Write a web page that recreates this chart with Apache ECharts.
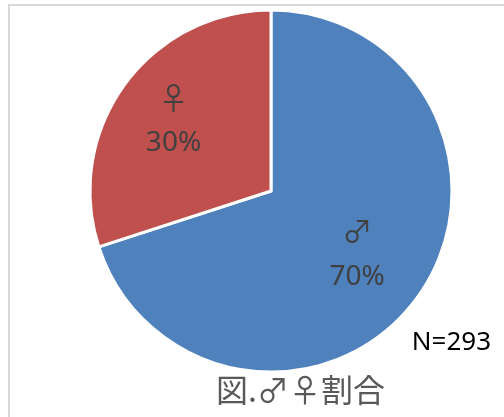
<!DOCTYPE html>
<html><head><meta charset="utf-8">
<script src="https://cdn.jsdelivr.net/npm/echarts@6/dist/echarts.min.js"></script>
<style>html,body{margin:0;padding:0;background:#fff;}#c{width:504px;height:417px;}</style>
</head><body><div id="c"></div>
<script>
const categories = ['♂', '♀'];
const values = [70, 30];
const colors = ['#4f81bd', '#c0504d'];
const titleText = '図.♂♀割合';
const noteText = 'N=293';

const chart = echarts.init(document.getElementById('c'));
const extra = [13, 27];
chart.setOption({
  animation: false,
  graphic: [
    { type: 'rect', shape: { x: 9, y: 5, width: 560, height: 460 }, style: { fill: 'none', stroke: '#d9d9d9', lineWidth: 2 }, silent: true },
    { type: 'text', right: 13, top: 330, style: { text: noteText, font: '26px "Noto Sans", sans-serif', fill: '#000' } },
    { type: 'text', left: 216, top: 374, style: { text: titleText, font: '32px "Noto Sans CJK JP", sans-serif', fill: '#595959' } }
  ],
  series: [{
    type: 'pie',
    center: [271, 191],
    radius: 181,
    startAngle: 90,
    clockwise: true,
    itemStyle: { borderColor: '#fff', borderWidth: 3 },
    label: {
      show: true,
      position: 'inside',
      formatter: p => '{s|' + p.name + '}\n{v|' + p.value + '%}',
      rich: {
        s: { fontSize: 30, color: '#404040', fontFamily: '"Noto Sans CJK JP", sans-serif', lineHeight: 46 },
        v: { fontSize: 28, color: '#404040', fontFamily: '"Noto Sans", sans-serif', lineHeight: 46 }
      }
    },
    labelLayout: function (params) {
      const i = params.dataIndex;
      let start = 0, total = 0;
      values.forEach(v => total += v);
      for (let k = 0; k < i; k++) start += values[k];
      const mid = (start + values[i] / 2) / total * Math.PI * 2;
      return { dx: Math.sin(mid) * extra[i], dy: -Math.cos(mid) * extra[i] };
    },
    data: categories.map((c, i) => ({ name: c, value: values[i], itemStyle: { color: colors[i] } }))
  }]
});
</script></body></html>
